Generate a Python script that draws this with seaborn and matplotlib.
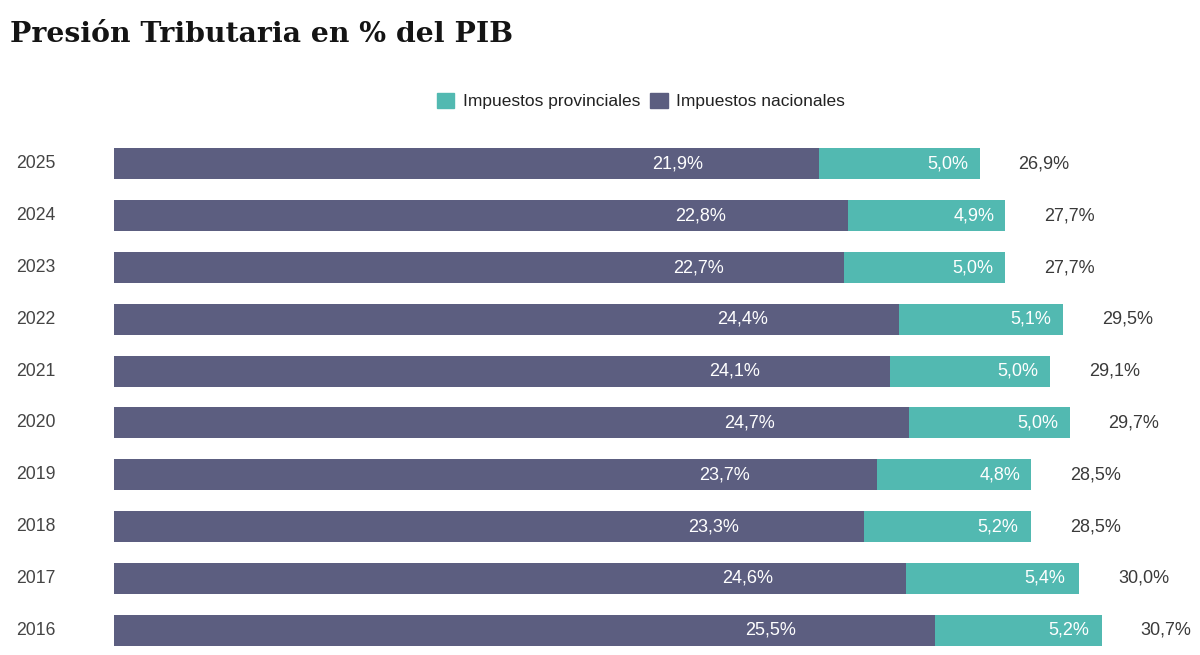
import matplotlib
matplotlib.use("Agg")
import matplotlib.pyplot as plt
import seaborn as sns
import pandas as pd
from matplotlib.patches import Patch

years = ["2025", "2024", "2023", "2022", "2021", "2020", "2019", "2018", "2017", "2016"]
nacionales = [21.9, 22.8, 22.7, 24.4, 24.1, 24.7, 23.7, 23.3, 24.6, 25.5]
provinciales = [5.0, 4.9, 5.0, 5.1, 5.0, 5.0, 4.8, 5.2, 5.4, 5.2]
totales = [26.9, 27.7, 27.7, 29.5, 29.1, 29.7, 28.5, 28.5, 30.0, 30.7]

col_nac = "#5c5e80"
col_prov = "#52b9b1"

sns.set_theme(style="white")
plt.rcParams["font.family"] = ["Liberation Sans", "DejaVu Sans"]

df = pd.DataFrame({"year": years, "nac": nacionales, "prov": provinciales,
                   "stack": [n + p for n, p in zip(nacionales, provinciales)],
                   "total": totales})

fig = plt.figure(figsize=(12, 6.55), dpi=100)
ax = fig.add_axes([114 / 1200, 0.0, 1 - 114 / 1200, (655 - 138) / 655])

sns.barplot(data=df, x="stack", y="year", order=years, orient="h",
            color=col_prov, width=0.6, saturation=1, ax=ax, errorbar=None, linewidth=0)
sns.barplot(data=df, x="nac", y="year", order=years, orient="h",
            color=col_nac, width=0.6, saturation=1, ax=ax, errorbar=None, linewidth=0)

ax.set_xlim(0, 1086 / 32.18)
ax.set_ylim(9.48, -0.5)

def fmt(v):
    return f"{v:.1f}%".replace(".", ",")

for i, (n, p, t) in enumerate(zip(nacionales, provinciales, totales)):
    ax.text(n * 0.8, i, fmt(n), ha="center", va="center", color="white", fontsize=13)
    ax.text(n + p * 0.8, i, fmt(p), ha="center", va="center", color="white", fontsize=13)
    ax.text(n + p + 1.2, i, fmt(t), ha="left", va="center", color="#3a3a3a", fontsize=13)

ax.set_xlabel("")
ax.set_ylabel("")
ax.set_xticks([])
ax.tick_params(axis="y", length=0, pad=70.5, labelsize=12.7, labelcolor="#444444")
for lab in ax.get_yticklabels():
    lab.set_horizontalalignment("left")
    lab.set_verticalalignment("center")
sns.despine(ax=ax, left=True, bottom=True)

handles = [Patch(color=col_prov, label="Impuestos provinciales"),
           Patch(color=col_nac, label="Impuestos nacionales")]
fig.legend(handles=handles, loc="center", bbox_to_anchor=(641 / 1200, 1 - 101 / 655),
           ncol=2, frameon=False, fontsize=12.5, handlelength=1.0, handleheight=1.0,
           handletextpad=0.5, columnspacing=0.6, labelcolor="#222222")

fig.text(10 / 1200, 1 - 34 / 655, "Presión Tributaria en % del PIB", ha="left", va="center",
         fontsize=20.3, fontweight="bold", family=["DejaVu Serif"], color="#141414")

fig.savefig("out.png", dpi=100)
